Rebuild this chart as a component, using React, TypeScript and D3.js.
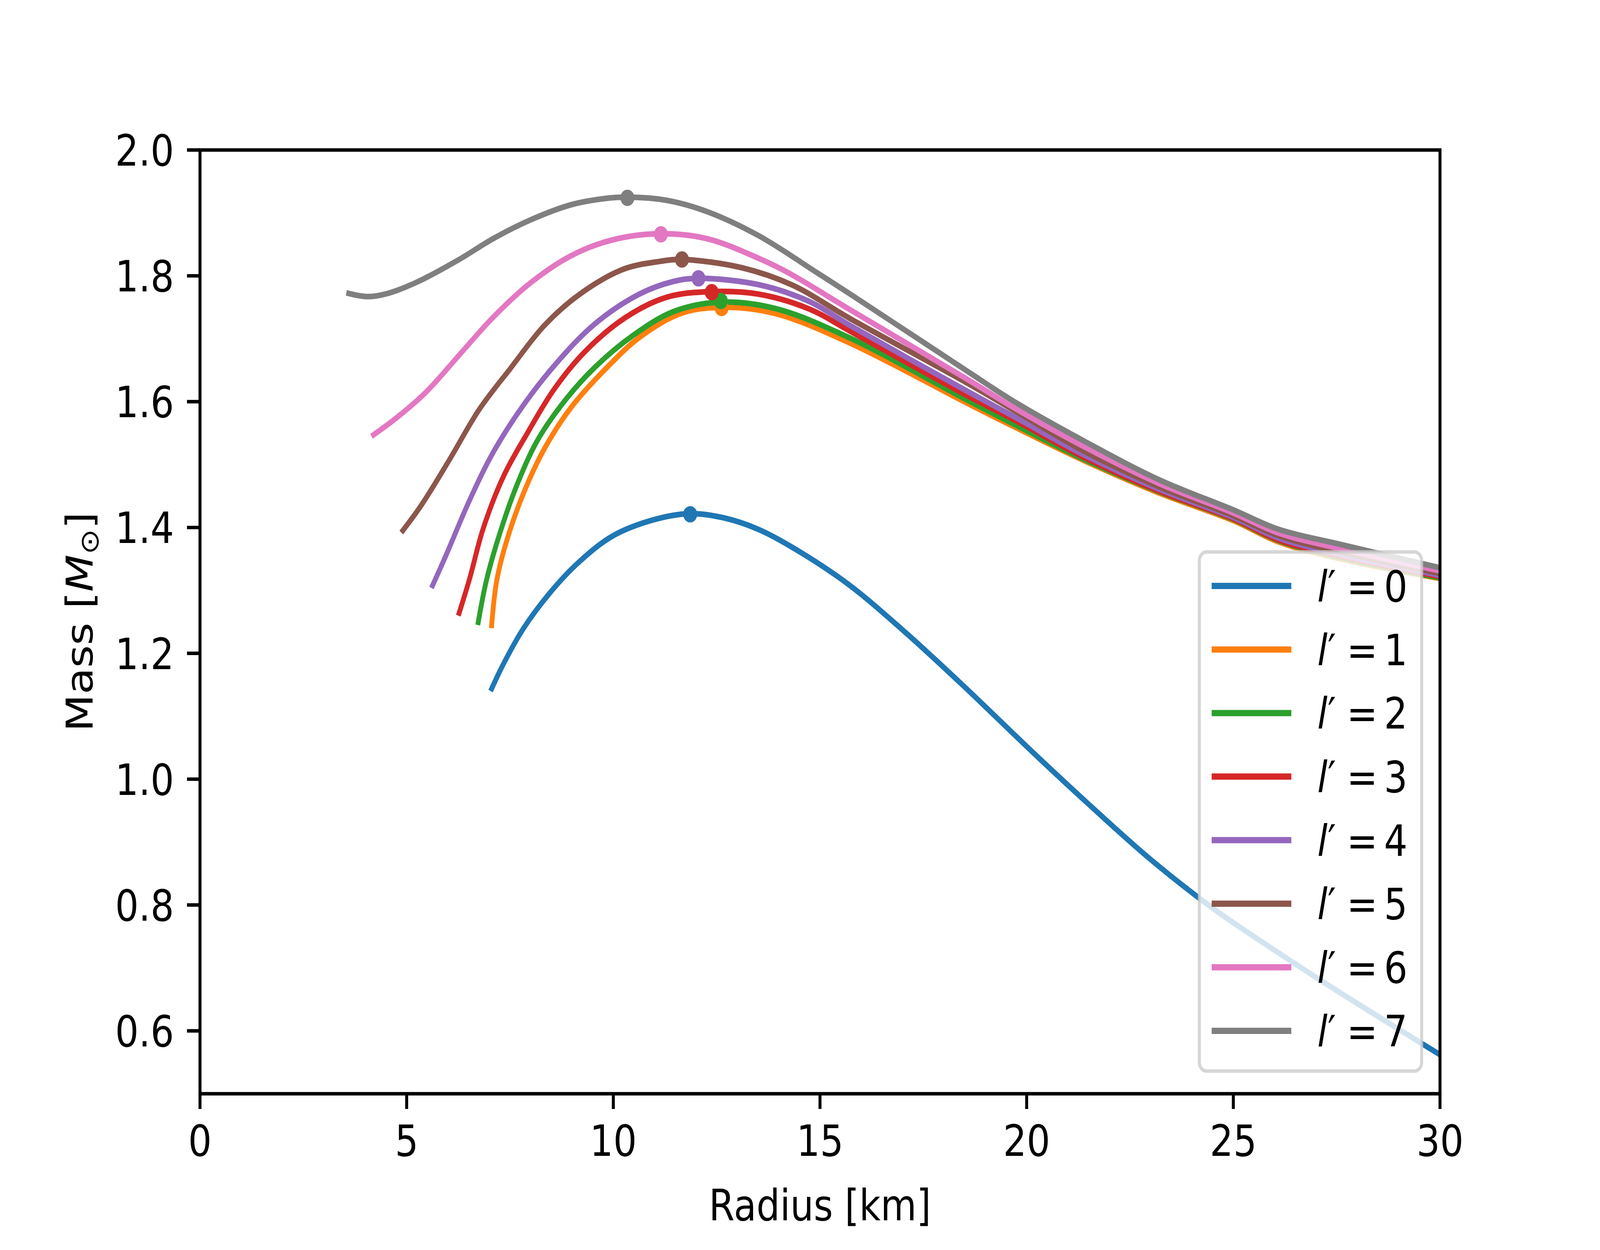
import React from "react";
import * as d3 from "d3";

// ---- data (radius in km, mass in solar masses) ----
const labels = ["0", "1", "2", "3", "4", "5", "6", "7"];
const colors = ["#1f77b4", "#ff7f0e", "#2ca02c", "#d62728", "#9467bd", "#8c564b", "#e377c2", "#7f7f7f"];

const R0 = [7.03, 7.34, 7.83, 8.49, 9.15, 9.97, 10.96, 11.85, 12.69, 13.51, 14.29, 15.68, 17.07, 18.46, 20.16, 21.47, 22.97, 24.5, 26.0, 27.5, 30.0];
const M0 = [1.14, 1.183, 1.24, 1.298, 1.344, 1.386, 1.412, 1.422, 1.415, 1.397, 1.37, 1.31, 1.233, 1.149, 1.042, 0.962, 0.874, 0.795, 0.728, 0.664, 0.562];

const R1 = [7.05, 7.18, 7.42, 7.83, 8.33, 8.98, 9.81, 10.63, 11.62, 12.62, 13.92, 15.73, 18.55, 19.7, 21.4, 23.2, 25.0, 26.1, 27.6, 30.0];
const M1 = [1.24, 1.316, 1.379, 1.455, 1.525, 1.591, 1.652, 1.702, 1.74, 1.75, 1.74, 1.693, 1.598, 1.56, 1.506, 1.455, 1.411, 1.377, 1.35, 1.319];

const R2 = [6.72, 6.93, 7.26, 7.67, 8.16, 8.82, 9.56, 10.47, 11.45, 12.56, 13.92, 15.73, 18.55, 19.7, 21.4, 23.2, 25.0, 26.1, 27.6, 30.0];
const M2 = [1.245, 1.316, 1.392, 1.468, 1.538, 1.601, 1.655, 1.705, 1.743, 1.758, 1.748, 1.701, 1.603, 1.564, 1.508, 1.457, 1.413, 1.379, 1.352, 1.32];

const R3 = [6.25, 6.52, 6.85, 7.34, 7.92, 8.57, 9.32, 10.3, 11.29, 12.38, 13.51, 14.75, 15.73, 18.55, 19.7, 21.4, 23.2, 25.0, 26.1, 27.6, 30.0];
const M3 = [1.26, 1.318, 1.398, 1.481, 1.55, 1.62, 1.68, 1.734, 1.766, 1.775, 1.771, 1.747, 1.712, 1.61, 1.571, 1.511, 1.458, 1.414, 1.38, 1.354, 1.322];

const R4 = [5.6, 5.94, 6.52, 7.09, 7.83, 8.66, 9.56, 10.63, 11.45, 12.05, 13.51, 14.75, 15.73, 18.55, 19.7, 21.4, 23.2, 25.0, 26.1, 27.6, 30.0];
const M4 = [1.304, 1.354, 1.443, 1.519, 1.595, 1.664, 1.724, 1.771, 1.791, 1.796, 1.786, 1.759, 1.721, 1.617, 1.576, 1.515, 1.461, 1.416, 1.383, 1.357, 1.324];

const R5 = [4.87, 5.36, 6.02, 6.76, 7.5, 8.33, 9.15, 10.22, 11.13, 11.66, 13.1, 14.34, 15.73, 18.55, 19.7, 21.4, 23.2, 25.0, 26.1, 27.6, 30.0];
const M5 = [1.392, 1.436, 1.506, 1.588, 1.652, 1.721, 1.769, 1.81, 1.823, 1.826, 1.813, 1.785, 1.732, 1.63, 1.586, 1.521, 1.465, 1.419, 1.387, 1.361, 1.327];

const R6 = [4.15, 4.71, 5.45, 6.35, 7.09, 8.0, 8.98, 9.97, 11.14, 12.27, 13.51, 14.23, 15.73, 18.55, 19.7, 21.4, 23.2, 25.0, 26.1, 27.6, 30.0];
const M6 = [1.545, 1.572, 1.614, 1.68, 1.734, 1.789, 1.832, 1.857, 1.867, 1.859, 1.828, 1.805, 1.746, 1.636, 1.59, 1.528, 1.47, 1.423, 1.391, 1.366, 1.331];

const R7 = [3.54, 4.05, 4.54, 5.28, 6.27, 7.09, 8.0, 8.98, 9.81, 10.34, 11.29, 12.27, 13.51, 14.95, 15.73, 18.55, 19.7, 21.4, 23.2, 25.0, 26.1, 27.6, 30.0];
const M7 = [1.773, 1.767, 1.772, 1.791, 1.826, 1.859, 1.889, 1.913, 1.923, 1.925, 1.92, 1.902, 1.864, 1.804, 1.771, 1.649, 1.6, 1.537, 1.476, 1.428, 1.397, 1.373, 1.336];

const peakR = [11.86, 12.62, 12.6, 12.38, 12.06, 11.66, 11.15, 10.34];
const peakM = [1.421, 1.749, 1.76, 1.774, 1.796, 1.826, 1.866, 1.924];

const xTicks = [0, 5, 10, 15, 20, 25, 30];
const yTicks = [0.6, 0.8, 1.0, 1.2, 1.4, 1.6, 1.8, 2.0];

const radii = [R0, R1, R2, R3, R4, R5, R6, R7];
const masses = [M0, M1, M2, M3, M4, M5, M6, M7];

// ---- layout (figure coordinates of a 4800x3200 canvas) ----
const W = 4800;
const H = 3200;
const L = 600, R = 4320, T = 384, B = 2800;
const FS = 111;
const FONT = "DejaVu Sans";

export default function App() {
  const x = d3.scaleLinear().domain([0, 30]).range([L, R]);
  const y = d3.scaleLinear().domain([0.5, 2.0]).range([B, T]);
  const line = d3
    .line<[number, number]>()
    .x((d) => x(d[0]))
    .y((d) => y(d[1]))
    .curve(d3.curveCatmullRom.alpha(0.5));

  const legX = 3598, legY = 1413, legW = 667, legH = 1329;
  const rowY0 = 1500, rowStep = 162.7;

  return (
    <svg
      viewBox={`0 0 ${W} ${H}`}
      preserveAspectRatio="none"
      style={{ position: "fixed", left: 0, top: 0, width: "100vw", height: "100vh", display: "block", background: "#fff" }}
      fontFamily={FONT}
    >
      <rect x={0} y={0} width={W} height={H} fill="#fff" />
      <defs>
        <clipPath id="plotclip">
          <rect x={L} y={T} width={R - L} height={B - T} />
        </clipPath>
      </defs>

      {/* curves */}
      <g clipPath="url(#plotclip)">
        {radii.map((rs, i) => (
          <path
            key={"c" + i}
            d={line(rs.map((r, j) => [r, masses[i][j]] as [number, number])) || ""}
            fill="none"
            stroke={colors[i]}
            strokeWidth={14.5}
            strokeLinejoin="round"
            strokeLinecap="butt"
          />
        ))}
        {peakR.map((r, i) => (
          <circle key={"p" + i} cx={x(r)} cy={y(peakM[i])} r={21} fill={colors[i]} />
        ))}
      </g>

      {/* spines */}
      <rect x={L} y={T} width={R - L} height={B - T} fill="none" stroke="#000" strokeWidth={8.9} strokeLinejoin="miter" />

      {/* x ticks */}
      {xTicks.map((t) => (
        <g key={"xt" + t}>
          <line x1={x(t)} x2={x(t)} y1={B} y2={B + 39} stroke="#000" strokeWidth={8.9} />
          <text x={x(t)} y={B + 78 + 81} fontSize={FS} textAnchor="middle" fill="#000">
            {String(t)}
          </text>
        </g>
      ))}

      {/* y ticks */}
      {yTicks.map((t) => (
        <g key={"yt" + t}>
          <line x1={L - 39} x2={L} y1={y(t)} y2={y(t)} stroke="#000" strokeWidth={8.9} />
          <text x={L - 78} y={y(t) + 40} fontSize={FS} textAnchor="end" fill="#000">
            {t.toFixed(1)}
          </text>
        </g>
      ))}

      {/* axis labels */}
      <text x={(L + R) / 2} y={3124} fontSize={FS} textAnchor="middle" fill="#000">
        Radius [km]
      </text>
      <g transform={`translate(278, ${(T + B) / 2}) rotate(-90)`}>
        <text x={0} y={0} fontSize={FS} textAnchor="middle" fill="#000">
          <tspan>Mass [</tspan>
          <tspan fontStyle="italic">M</tspan>
          <tspan fontSize={78} dy={17}>⊙</tspan>
          <tspan dy={-17}>]</tspan>
        </text>
      </g>

      {/* legend */}
      <rect
        x={legX}
        y={legY}
        width={legW}
        height={legH}
        rx={22}
        ry={22}
        fill="#fff"
        fillOpacity={0.8}
        stroke="#cccccc"
        strokeOpacity={0.8}
        strokeWidth={9}
      />
      {labels.map((lab, i) => {
        const yy = rowY0 + i * rowStep;
        return (
          <g key={"lg" + i}>
            <line x1={3635} x2={3874} y1={yy} y2={yy} stroke={colors[i]} strokeWidth={16} />
            <text x={3952} y={yy + 40} fontSize={FS} fill="#000">
              <tspan fontStyle="italic">l</tspan>
              <tspan>′</tspan>
            </text>
            <text x={4040} y={yy + 40} fontSize={FS} fill="#000">=</text>
            <text x={4152} y={yy + 40} fontSize={FS} fill="#000">{lab}</text>
          </g>
        );
      })}
    </svg>
  );
}
